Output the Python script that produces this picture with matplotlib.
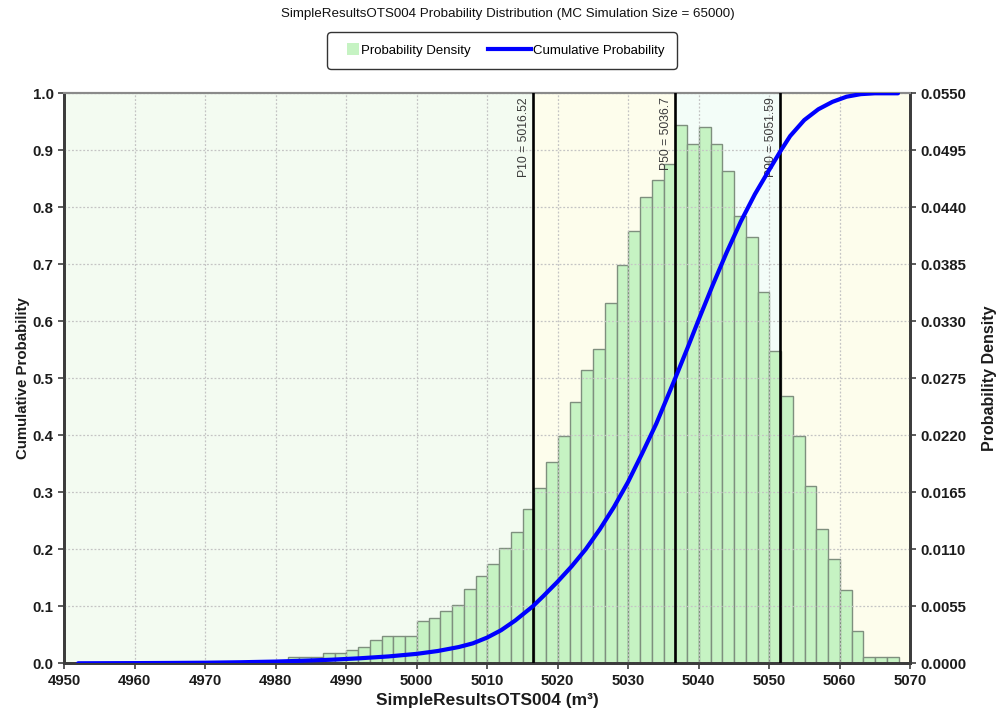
"""Probability distribution chart: density histogram + cumulative curve with P10/P50/P90 markers."""
import numpy as np
import matplotlib
matplotlib.use("Agg")
import matplotlib.pyplot as plt
from matplotlib.patches import Patch, Rectangle
from matplotlib.lines import Line2D
from matplotlib.legend_handler import HandlerPatch, HandlerBase

plt.rcParams["font.family"] = ["Liberation Sans", "DejaVu Sans"]

TITLE = "SimpleResultsOTS004 Probability Distribution (MC Simulation Size = 65000)"
X_LABEL = "SimpleResultsOTS004 (m³)"

# histogram: 52 equal bins, first edge + width
bin_start = 4981.73
bin_width = 1.6665
density = [
    0.0006, 0.0006, 0.0006, 0.0010, 0.0010, 0.0013, 0.0016, 0.0022, 0.0026, 0.0026,
    0.0026, 0.0041, 0.0044, 0.0050, 0.0056, 0.0072, 0.0084, 0.0096, 0.0111, 0.0127,
    0.0149, 0.0169, 0.0194, 0.0219, 0.0252, 0.0283, 0.0303, 0.0348, 0.0384, 0.0417,
    0.0450, 0.0466, 0.0482, 0.0519, 0.0501, 0.0517, 0.0501, 0.0475, 0.0432, 0.0411,
    0.0358, 0.0301, 0.0258, 0.0219, 0.0171, 0.0130, 0.0101, 0.0071, 0.0031, 0.0006,
    0.0006, 0.0006,
]

# cumulative curve points
cdf_x = [4952, 4960, 4965, 4970, 4975, 4980, 4984, 4988, 4992, 4996, 5000, 5003,
         5006, 5008, 5010, 5012, 5014, 5016.5, 5018, 5020, 5022, 5024, 5026, 5028,
         5030, 5032, 5034, 5036.7, 5038.5, 5040, 5042, 5044, 5046, 5048, 5050,
         5051.6, 5053, 5055, 5057, 5059, 5061, 5063, 5065, 5068.3]
cdf_y = [0.0, 0.0003, 0.0006, 0.0010, 0.0018, 0.0030, 0.0045, 0.0063, 0.0088, 0.0120,
         0.0165, 0.0215, 0.0285, 0.0350, 0.0450, 0.0580, 0.0750, 0.1000, 0.1180,
         0.1430, 0.1700, 0.2000, 0.2350, 0.2740, 0.3180, 0.3680, 0.4200, 0.5000,
         0.5550, 0.6020, 0.6630, 0.7210, 0.7750, 0.8230, 0.8650, 0.8980, 0.9250,
         0.9530, 0.9720, 0.9850, 0.9940, 0.9985, 1.0000, 1.0000]

percentiles = ["P10", "P50", "P90"]
pct_values = [5016.52, 5036.7, 5051.59]

x_ticks = list(range(4950, 5071, 10))
cum_ticks = [0.0, 0.1, 0.2, 0.3, 0.4, 0.5, 0.6, 0.7, 0.8, 0.9, 1.0]
dens_ticks = [0.0, 0.0055, 0.0110, 0.0165, 0.0220, 0.0275, 0.0330, 0.0385, 0.0440, 0.0495, 0.0550]

# region shading between percentile lines
region_colors = ["#f3fbf1", "#fdfdec", "#f3fdf8", "#fdfdec"]

BAR_FACE = "#c6f3c3"
BAR_EDGE = "#7e8f7e"
CDF_COL = "#0000ff"
TEXT_COL = "#1c1c1c"


def _square_handle(legend, orig_handle, xdescent, ydescent, width, height, fontsize):
    # small square pushed to the right end of the handle slot
    s = height * 1.15
    return Rectangle((width - xdescent - s, -ydescent + (height - s) / 2), s, s)


class HandlerLongLine(HandlerBase):
    """Line that reaches left past its (short) handle slot."""

    def create_artists(self, legend, orig_handle, xdescent, ydescent, width,
                       height, fontsize, trans):
        y = height / 2 - ydescent
        x1 = width - xdescent
        x0 = x1 - 3.25 * fontsize
        ln = Line2D([x0, x1], [y, y], color=CDF_COL, lw=3, transform=trans)
        return [ln]


fig = plt.figure(figsize=(10, 7.1), dpi=100)
ax = fig.add_axes([0.064, 0.0658, 0.846, 0.8028])
ax2 = ax.twinx()
ax.set_zorder(ax2.get_zorder() + 1)
ax.patch.set_visible(False)

x_lo, x_hi = x_ticks[0], x_ticks[-1]
bounds = [x_lo] + pct_values + [x_hi]
for i, c in enumerate(region_colors):
    ax2.axvspan(bounds[i], bounds[i + 1], color=c, zorder=0, lw=0)

edges = bin_start + bin_width * np.arange(len(density))
ax2.bar(edges, density, width=bin_width, align="edge", color=BAR_FACE,
        edgecolor=BAR_EDGE, linewidth=1.0, zorder=2)

ax.grid(True, color="#c4c4c4", linestyle=(0, (1.5, 1.5)), linewidth=0.9)
ax.set_axisbelow(True)

for name, v in zip(percentiles, pct_values):
    ax.axvline(v, color="black", lw=1.9, zorder=3)
    ax.annotate(f"{name} = {v:g}", xy=(v, 1.0), xytext=(-2, -3),
                textcoords="offset points", rotation=90, ha="right", va="top",
                fontsize=8.7, color="#3a3a3a", zorder=4)

ax.plot(cdf_x, cdf_y, color=CDF_COL, lw=3, zorder=5,
        solid_capstyle="round", solid_joinstyle="round")

ax.set_xlim(x_lo, x_hi)
ax.set_ylim(0, 1)
ax2.set_ylim(0, dens_ticks[-1])
ax.set_xticks(x_ticks)
ax.set_yticks(cum_ticks)
ax.set_yticklabels([f"{t:.1f}" for t in cum_ticks])
ax2.set_yticks(dens_ticks)
ax2.set_yticklabels([f"{t:.4f}" for t in dens_ticks])

for a in (ax, ax2):
    a.tick_params(axis="both", direction="out", length=4, width=1.2,
                  colors="#404040", labelcolor=TEXT_COL, labelsize=10.8)
    for lab in a.get_xticklabels() + a.get_yticklabels():
        lab.set_fontweight("bold")
    for side in ("left", "bottom", "right"):
        a.spines[side].set_color("#3c3c3c")
        a.spines[side].set_linewidth(2)
    a.spines["top"].set_color("#8a8a8a")
    a.spines["top"].set_linewidth(1.5)

ax.set_xlabel(X_LABEL, fontsize=12.5, fontweight="bold", color=TEXT_COL, labelpad=4)
ax.set_ylabel("Cumulative Probability", fontsize=10.8, fontweight="bold",
              color=TEXT_COL, labelpad=2)
ax2.set_ylabel("Probability Density", fontsize=11.5, fontweight="bold",
               color=TEXT_COL, labelpad=11)

fig.text(0.508, 0.980, TITLE, ha="center", va="center", fontsize=9.6, color="#111111")

handles = [Patch(facecolor=BAR_FACE, edgecolor="none"),
           Line2D([0], [0], color=CDF_COL, lw=3)]
leg = fig.legend(handles, ["Probability Density", "Cumulative Probability"],
                 loc="center", bbox_to_anchor=(0.502, 0.929), ncol=2,
                 fontsize=9.5, frameon=True, fancybox=True, edgecolor="black",
                 handlelength=1.5, handleheight=0.8, handletextpad=0.15,
                 columnspacing=3.1, borderpad=0.75,
                 handler_map={Patch: HandlerPatch(patch_func=_square_handle),
                              Line2D: HandlerLongLine()})
leg.get_frame().set_linewidth(1.0)
leg.get_frame().set_boxstyle("round,pad=0.2,rounding_size=0.3")

fig.savefig("out.png", dpi=100)
